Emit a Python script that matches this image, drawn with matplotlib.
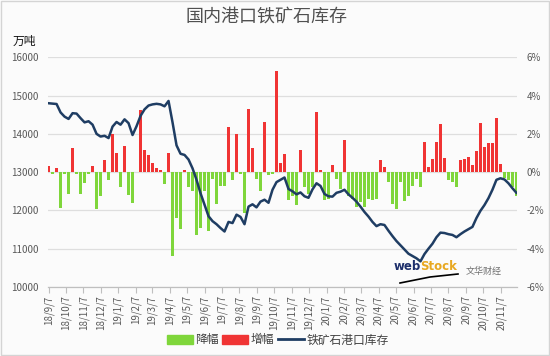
import numpy as np
import pandas as pd
import matplotlib
matplotlib.use('Agg')
import matplotlib.pyplot as plt
import matplotlib.dates as mdates
from matplotlib.patches import Patch, Rectangle
from matplotlib.lines import Line2D

plt.rcParams['font.family'] = ['Noto Sans CJK SC', 'DejaVu Sans']

# weekly port inventory of iron ore (10k tonnes) and weekly change (%)
weeks = pd.date_range('2018-09-07', periods=118, freq='7D')
stock = [14800, 14790, 14780, 14560, 14450, 14390, 14540, 14530, 14410, 14300,
         14330, 14240, 14000, 13930, 13950, 13890, 14190, 14310, 14240, 14380,
         14280, 13970, 14200, 14470, 14640, 14740, 14770, 14785, 14770, 14720,
         14860, 14300, 13700, 13480, 13450, 13330, 13100, 12800, 12450, 12150,
         11850, 11720, 11640, 11540, 11450, 11700, 11670, 11890, 11830, 11640,
         12100, 12160, 12080, 12230, 12280, 12200, 12540, 12740, 12800, 12860,
         12560, 12500, 12420, 12470, 12370, 12330, 12550, 12710, 12640, 12430,
         12370, 12360, 12460, 12490, 12540, 12420, 12330, 12230, 12100, 11960,
         11840, 11700, 11590, 11640, 11620, 11470, 11330, 11200, 11090, 10980,
         10870, 10810, 10750, 10670, 10860, 11000, 11130, 11300, 11420, 11410,
         11380, 11360, 11300, 11380, 11450, 11510, 11570, 11800, 11990, 12140,
         12320, 12540, 12800, 12840, 12810, 12710, 12580, 12460]
change = [0.3, -0.12, 0.24, -1.85, -0.1, -1.13, 1.25, -0.1, -1.13, -0.57,
          -0.1, 0.32, -1.9, -1.27, 0.62, -0.42, 1.97, 0.99, -0.77, 1.38,
          -1.2, -1.63, 0.0, 3.25, 1.15, 0.88, 0.47, 0.2, 0.12, -0.6,
          1.0, -4.4, -2.4, -2.98, 0.1, -0.8, -1.0, -3.3, -2.9, -1.0,
          -3.05, -0.38, -1.65, -0.7, -0.7, 2.38, -0.4, 2.0, -0.1, -2.15,
          3.32, 1.27, -0.35, -1.0, 2.6, -0.17, -0.1, 5.3, 0.46, 0.96,
          -1.48, -1.22, -1.74, 1.17, -0.75, -1.13, -0.78, 3.13, 0.09, -1.48,
          -1.39, 0.35, -0.38, -0.87, 1.69, -1.22, -1.39, -1.83, -1.57, -1.8,
          -1.39, -1.48, -1.4, 0.66, 0.26, -0.52, -1.65, -1.91, -0.52, -1.53,
          -1.22, -0.7, -0.35, -0.78, 1.57, 0.26, 0.7, 1.57, 2.54, 0.75,
          -0.4, -0.5, -0.75, 0.64, 0.7, 0.77, 0.38, 1.11, 2.56, 1.34,
          1.51, 1.51, 2.85, 0.42, -0.31, -0.4, -0.75, -1.27]

left_ticks = [10000, 11000, 12000, 13000, 14000, 15000, 16000]
right_ticks = [-6, -4, -2, 0, 2, 4, 6]
month_ticks = pd.date_range('2018-09-01', '2020-11-01', freq='MS') + pd.Timedelta(days=6)

green = '#7fd63b'
red = '#f03434'
navy = '#1f3d63'
grey = '#595959'

change = np.array(change)
decline = np.where(change < 0, change, 0)
increase = np.where(change > 0, change, 0)

fig = plt.figure(figsize=(5.5, 3.56), dpi=100, facecolor='#fbfbfb')
fig.patches.append(Rectangle((0.002, 0.003), 0.996, 0.994, transform=fig.transFigure,
                             fill=False, edgecolor='#d4d4d4', lw=1))

ax2 = fig.add_axes([48/550, 1-287/356, (517-48)/550, (287-57.3)/356])
ax = ax2.twinx()
ax.yaxis.tick_left()
ax2.yaxis.tick_right()
ax.set_zorder(ax2.get_zorder() + 1)
ax.patch.set_visible(False)
ax2.set_facecolor('#fbfbfb')

ax2.bar(weeks, decline, width=5.0, color=green, zorder=2, label='降幅')
ax2.bar(weeks, increase, width=5.0, color=red, zorder=2, label='增幅')
ax.plot(weeks, stock, color=navy, lw=1.8, label='铁矿石港口库存')

ax2.set_ylim(-6, 6)
ax2.set_yticks(right_ticks)
ax2.set_yticklabels([f'{t}%' for t in right_ticks])
ax2.grid(axis='y', color='#dedede', lw=0.9, zorder=0)
ax2.set_axisbelow(True)

ax.set_ylim(10000, 16000)
ax.set_yticks(left_ticks)
ax.set_yticklabels([str(t) for t in left_ticks])

ax2.set_xlim(mdates.date2num(weeks[0]) - 1, mdates.date2num(weeks[-1]) + 1)
ax2.set_xticks(month_ticks)
ax2.set_xticklabels([f'{d.year % 100}/{d.month}/{d.day}' for d in month_ticks],
                    rotation=90, fontsize=7, color=grey)
ax2.tick_params(axis='x', length=4, color='#bfbfbf', pad=2)

for a in (ax, ax2):
    for s in ('top', 'left', 'right'):
        a.spines[s].set_visible(False)
    a.spines['bottom'].set_color('#bfbfbf')
    a.tick_params(axis='y', length=0, labelsize=7, labelcolor=grey, pad=7)

fig.text(0.485, 0.952, '国内港口铁矿石库存', ha='center', va='center', fontsize=13, color='#505050')
fig.text(13/550, 1-41/356, '万吨', ha='left', va='center', fontsize=8.5, color='#111111')

# watermark
fig.text(421/550, 1-266/356, 'web', ha='right', va='center', fontsize=8.5,
         fontweight='bold', color='#1d2f6b', family='DejaVu Sans')
fig.text(420/550, 1-266/356, 'Stock', ha='left', va='center', fontsize=8.5,
         fontweight='bold', color='#e8a820', family='DejaVu Sans')
fig.text(466/550, 1-271/356, '文华财经', ha='left', va='center', fontsize=6.5, color='#707070')
fig.add_artist(Line2D([400/550, 430/550, 458/550], [1-283/356, 1-277/356, 1-274/356],
                      transform=fig.transFigure, color='black', lw=1.2))

handles = [Patch(color=green), Patch(color=red), Line2D([], [], color=navy, lw=2)]
fig.legend(handles, ['降幅', '增幅', '铁矿石港口库存'], loc='center', bbox_to_anchor=(0.505, 0.045),
           ncol=3, frameon=False, fontsize=8.5, handlelength=2.2, handleheight=0.8,
           handletextpad=0.2, columnspacing=0.3, labelcolor='#404040')

fig.savefig('out.png', dpi=100, facecolor=fig.get_facecolor())
